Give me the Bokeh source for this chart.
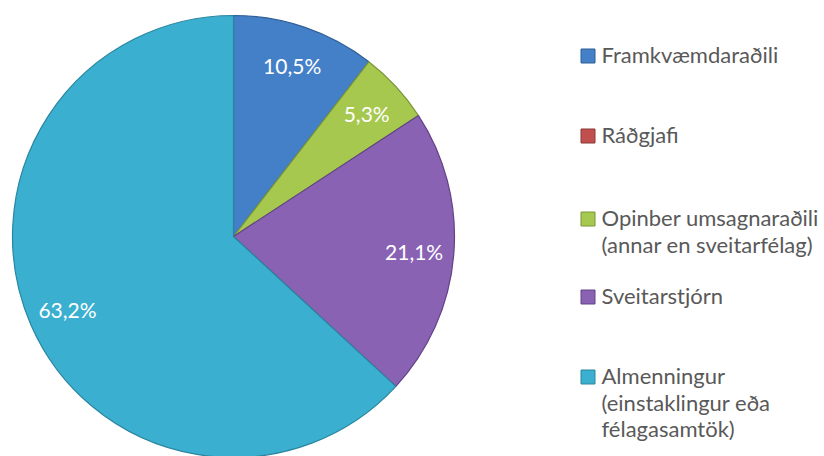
import math
from bokeh.plotting import figure
from bokeh.models import Range1d
from bokeh.core.properties import value
from bokeh.embed import file_html
from bokeh.resources import INLINE

# ---- data ----
categories = ["Framkvæmdaraðili", "Ráðgjafi",
              "Opinber umsagnaraðili\n(annar en sveitarfélag)",
              "Sveitarstjórn",
              "Almenningur\n(einstaklingur eða\nfélagasamtök)"]
shares = [10.5, 0.0, 5.3, 21.1, 63.2]
labels = ["10,5%", "", "5,3%", "21,1%", "63,2%"]
colors = ["#4380c8", "#c0504d", "#a6c84f", "#8a62b4", "#3aafcf"]
edges = ["#2f5f96", "#8c3836", "#7a9538", "#634386", "#2a86a0"]

# ---- layout (pixel-like coordinates, y down) ----
W, H = 824, 456
OX, OY = 0, 0
CX, CY, R = 233, 236, 221

p = figure(width=W, height=H, output_backend="svg", toolbar_location=None,
           x_range=Range1d(OX, OX + W), y_range=Range1d(OY + H, OY),
           min_border=0)
p.axis.visible = False
p.grid.visible = False
p.outline_line_color = None
p.background_fill_color = "white"

total = sum(shares)
start = math.pi / 2
st, en, fc, lc = [], [], [], []
lx, ly, lt = [], [], []
for s, c, e, lab in zip(shares, colors, edges, labels):
    ang = 2 * math.pi * s / total
    end = start - ang
    if s > 0:
        st.append(start)
        en.append(end)
        fc.append(c)
        lc.append(e)
        mid = (start + end) / 2
        lx.append(CX + 0.82 * R * math.cos(mid))
        ly.append(CY - 0.82 * R * math.sin(mid))
        lt.append(lab)
    start = end

p.wedge(x=CX, y=CY, radius=R, start_angle=st, end_angle=en,
        direction="clock", fill_color=fc, line_color=lc, line_width=1.2)

p.text(x=lx, y=ly, text=lt, text_color="white", text_align="center",
       text_baseline="middle", text_font=value("Lato"), text_font_size="21px")

# ---- legend ----
row_y = [54, 134, 217, 295, 375]
line_h = 26.5
mx, tx = 587.5, 601
tlx, tly, tlt = [], [], []
for cat, y in zip(categories, row_y):
    for i, line in enumerate(cat.split("\n")):
        tlx.append(tx)
        tly.append(y + i * line_h)
        tlt.append(line)
p.rect(x=mx, y=[y + 1.5 for y in row_y], width=14, height=14,
       fill_color=colors, line_color=edges, line_width=1)
p.text(x=tlx, y=tly, text=tlt, text_color="#595959", text_align="left",
       text_baseline="middle", text_font=value("Lato"), text_font_size="22px")

open("out.html", "w").write(file_html(p, INLINE))
